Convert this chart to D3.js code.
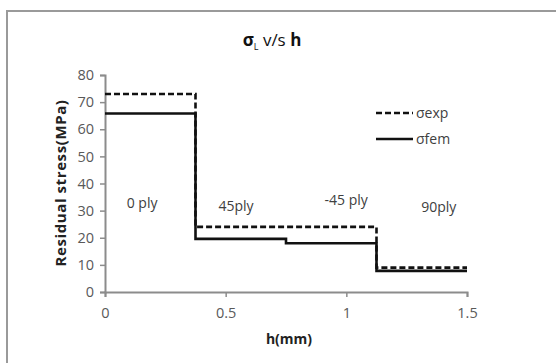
<!DOCTYPE html>
<html>
<head>
<meta charset="utf-8">
<script src="https://cdn.jsdelivr.net/npm/d3@7"></script>
<style>
  body { margin: 0; background: #fff; }
  text { font-family: "Open Sans", "Liberation Sans", sans-serif; }
</style>
</head>
<body>
<div id="chart"></div>
<script>
// ply boundaries along h (mm)
const hBreaks = [0, 0.375, 0.75, 1.125, 1.5];
// residual stress per ply (MPa)
const sigmaExp = [73, 24, 24, 9];
const sigmaFem = [65.8, 19.6, 18, 7.8];
const plyLabels = ["0 ply", "45ply", "-45 ply", "90ply"];
const plyLabelPos = [[0.09, 31], [0.47, 30], [0.91, 32], [1.31, 29.5]];
const xTicks = [0, 0.5, 1, 1.5];
const yTicks = [0, 10, 20, 30, 40, 50, 60, 70, 80];

const W = 556, H = 363;
const margin = { top: 75, left: 105, right: 89, bottom: 71 };
const width = W - margin.left - margin.right;
const height = H - margin.top - margin.bottom;

const svg = d3.select("#chart").append("svg")
  .attr("width", W).attr("height", H);

// outer frame (only top and left edges are visible)
svg.append("line").attr("x1", 7).attr("x2", W).attr("y1", 11).attr("y2", 11)
  .attr("stroke", "#9a9a9a").attr("stroke-width", 2);
svg.append("line").attr("x1", 7).attr("x2", 7).attr("y1", 10).attr("y2", H)
  .attr("stroke", "#9a9a9a").attr("stroke-width", 2);

const g = svg.append("g").attr("transform", `translate(${margin.left},${margin.top})`);

const x = d3.scaleLinear().domain([0, 1.5]).range([0, width]);
const y = d3.scaleLinear().domain([0, 80]).range([height, 0]);

// axes
const xAxis = g.append("g").attr("transform", `translate(0,${height})`)
  .call(d3.axisBottom(x).tickValues(xTicks).tickSize(5).tickPadding(11)
    .tickFormat(d => d));
const yAxis = g.append("g")
  .call(d3.axisLeft(y).tickValues(yTicks).tickSize(5).tickPadding(6));
[xAxis, yAxis].forEach(a => {
  a.select(".domain").attr("stroke", "#8c8c8c").attr("stroke-width", 2);
  a.selectAll(".tick line").attr("stroke", "#8c8c8c").attr("stroke-width", 1.5);
  a.selectAll(".tick text").attr("fill", "#595959").style("font-size", "14.5px")
    .style("font-family", "'Open Sans', sans-serif");
});

// step line from ply values
function stepPoints(vals) {
  const pts = [];
  vals.forEach((v, i) => {
    pts.push([hBreaks[i], v]);
    pts.push([hBreaks[i + 1], v]);
  });
  return pts;
}
const line = d3.line().x(d => x(d[0])).y(d => y(d[1]));

g.append("path").datum(stepPoints(sigmaFem))
  .attr("d", line).attr("fill", "none")
  .attr("stroke", "#111").attr("stroke-width", 2.6);
g.append("path").datum(stepPoints(sigmaExp))
  .attr("d", line).attr("fill", "none")
  .attr("stroke", "#111").attr("stroke-width", 2.6)
  .attr("stroke-dasharray", "6,3");

// ply labels
g.selectAll(".ply").data(plyLabels).join("text")
  .attr("x", (d, i) => x(plyLabelPos[i][0]))
  .attr("y", (d, i) => y(plyLabelPos[i][1]))
  .attr("fill", "#404040").style("font-size", "14px")
  .text(d => d);

// legend
const legend = svg.append("g").attr("transform", "translate(376,113)");
legend.append("line").attr("x1", 0).attr("x2", 37).attr("y1", 0).attr("y2", 0)
  .attr("stroke", "#111").attr("stroke-width", 2.6).attr("stroke-dasharray", "6,3");
legend.append("text").attr("x", 40).attr("y", 5).attr("fill", "#404040")
  .style("font-size", "14px").text("σexp");
legend.append("line").attr("x1", 0).attr("x2", 37).attr("y1", 26).attr("y2", 26)
  .attr("stroke", "#111").attr("stroke-width", 2.6);
legend.append("text").attr("x", 40).attr("y", 31).attr("fill", "#404040")
  .style("font-size", "14px").text("σfem");

// title
const title = svg.append("text").attr("x", 272).attr("y", 46)
  .attr("text-anchor", "middle").attr("fill", "#111").style("font-size", "17px");
title.append("tspan").style("font-weight", "bold").text("σ");
title.append("tspan").attr("dy", 4).style("font-size", "9px").text("L");
title.append("tspan").attr("dy", -4).style("font-weight", "normal").text(" v/s ");
title.append("tspan").style("font-weight", "bold").text("h");

// axis titles
svg.append("text").attr("x", 289).attr("y", 344).attr("text-anchor", "middle")
  .style("font-size", "14px").style("font-weight", "bold").attr("fill", "#222")
  .text("h(mm)");
svg.append("text")
  .attr("transform", "translate(66,183) rotate(-90)")
  .attr("text-anchor", "middle")
  .style("font-size", "15px").style("font-weight", "bold").attr("fill", "#222")
  .style("letter-spacing", "0.6px")
  .text("Residual stress(MPa)");
</script>
</body>
</html>
